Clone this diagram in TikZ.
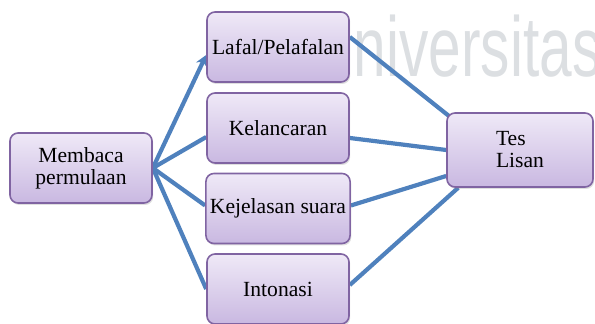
\documentclass[tikz,border=0pt]{standalone}
\usepackage{graphicx}
\usepackage{fontspec}
\setmainfont{Liberation Serif}
\newfontfamily\wmfont{Liberation Sans}
\usetikzlibrary{arrows.meta,calc,shadows,backgrounds}
\definecolor{linkblue}{HTML}{4F81BD}
\definecolor{boxedge}{HTML}{8064A2}
\definecolor{boxtop}{HTML}{EFE9F7}
\definecolor{boxbottom}{HTML}{C9B8E1}
\definecolor{wmgray}{HTML}{DCDFE2}

\begin{document}
\begin{tikzpicture}[x=0.5pt,y=-0.5pt,>=Stealth,
 box/.style={draw=boxedge,line width=0.8pt,rounded corners=4pt,top color=boxtop,bottom color=boxbottom,align=center,inner sep=2pt,minimum width=71pt,minimum height=35pt,font=\fontsize{10.8}{11}\selectfont,drop shadow={shadow xshift=0.6pt,shadow yshift=-1pt,opacity=0.25}},
 link/.style={draw=linkblue,line width=2.1pt}]
\useasboundingbox (0,0) rectangle (595,324);
\node[box] (membaca) at (81,168) {Membaca\\permulaan};
\node[box] (lafal) at (278,47) {Lafal/Pelafalan};
\node[box] (lancar) at (278,128) {Kelancaran};
\node[box] (jelas) at (278,208.5) {Kejelasan suara};
\node[box] (intonasi) at (278,289) {Intonasi};
\node[box,minimum width=73pt,minimum height=37pt,align=left] (tes) at (520,150) {Tes\\Lisan};
\begin{scope}[on background layer]
\node[anchor=base west,inner sep=0,text=wmgray,font=\wmfont\fontsize{42.5}{42.5}\selectfont] (watermark) at (311,77) {\scalebox{0.69}[1]{Universitas}};
\draw[link,-{Stealth[length=5.5pt,width=6pt]}] (membaca.east) -- ([yshift=-4pt]lafal.west);
\draw[link] (membaca.east) -- ([yshift=-4.5pt]lancar.west);
\draw[link] (membaca.east) -- ([yshift=1.5pt]jelas.west);
\draw[link] (membaca.east) -- (intonasi.west);
\draw[link] ([yshift=5pt]lafal.east) -- ([xshift=1.5pt,yshift=-2pt]tes.north west);
\draw[link] ([yshift=-5pt]lancar.east) -- (tes.west);
\draw[link] ([yshift=1.5pt]jelas.east) -- ([yshift=-13pt]tes.west);
\draw[link] ([yshift=2pt]intonasi.east) -- ([xshift=6pt]tes.south west);
\end{scope}
\end{tikzpicture}
\end{document}
